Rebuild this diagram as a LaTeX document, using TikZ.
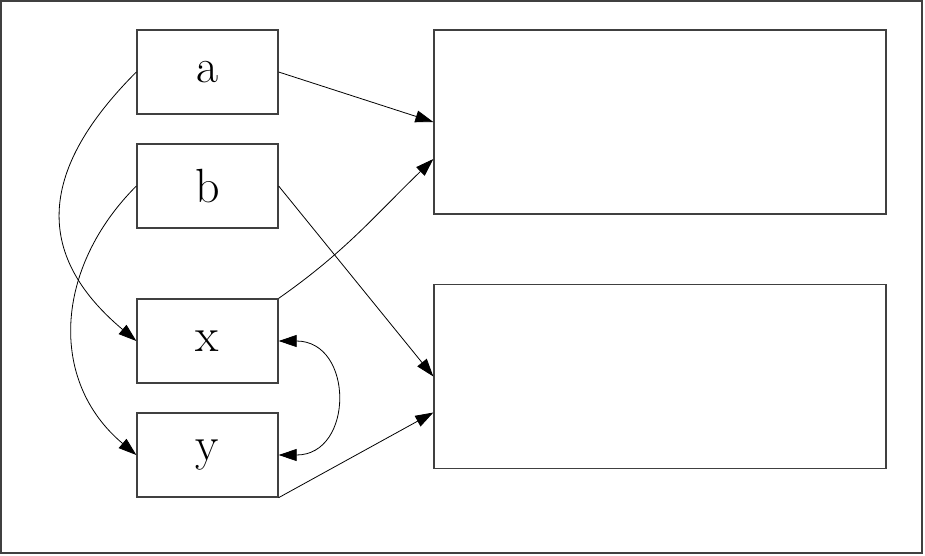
\documentclass[tikz,border=0pt]{standalone}
\usepackage{tikz}
\usetikzlibrary{arrows.meta,positioning}

\begin{document}
\begin{tikzpicture}[x=1pt,y=1pt,
  smallbox/.style={draw=black!75, line width=1.3pt, minimum width=141pt, minimum height=84pt, inner sep=0pt, font=\fontsize{48}{56}\selectfont},
  bigbox/.style={draw=black!75, line width=1.3pt, minimum width=452pt, minimum height=184pt, inner sep=0pt},
  link/.style={line width=0.8pt, -{Triangle[length=18pt,width=12pt]}}]
\useasboundingbox (0,0) rectangle (925,-555);
\draw [black!75, line width=2pt] (1,-1) rectangle (922,-553);
\node [smallbox] (a) at (207.5,-72) {a};
\node [smallbox, below=28.7pt of a] (b) {b};
\node [smallbox, below=69.7pt of b] (x) {x};
\node [smallbox, below=28.7pt of x] (y) {y};
\node [bigbox] (out1) at (660,-122) {};
\node [bigbox, below=69.2pt of out1] (out2) {};
\draw [link] (a.east) -- (out1.west);
\draw [link] (b.east) -- (out2.west);
\draw [link] (x.north east) to[out=35,in=224] ([yshift=-37pt]out1.west);
\draw [link] (y.south east) -- ([yshift=-36pt]out2.west);
\draw [link] (a.west) to[out=225,in=140,looseness=1.3] (x.west);
\draw [link] (b.west) to[out=225,in=140,looseness=1.1] (y.west);
\draw [link, {Triangle[length=18pt,width=12pt]}-{Triangle[length=18pt,width=12pt]}] (x.east) to[out=0,in=0,looseness=1.7] (y.east);

\end{tikzpicture}
\end{document}
